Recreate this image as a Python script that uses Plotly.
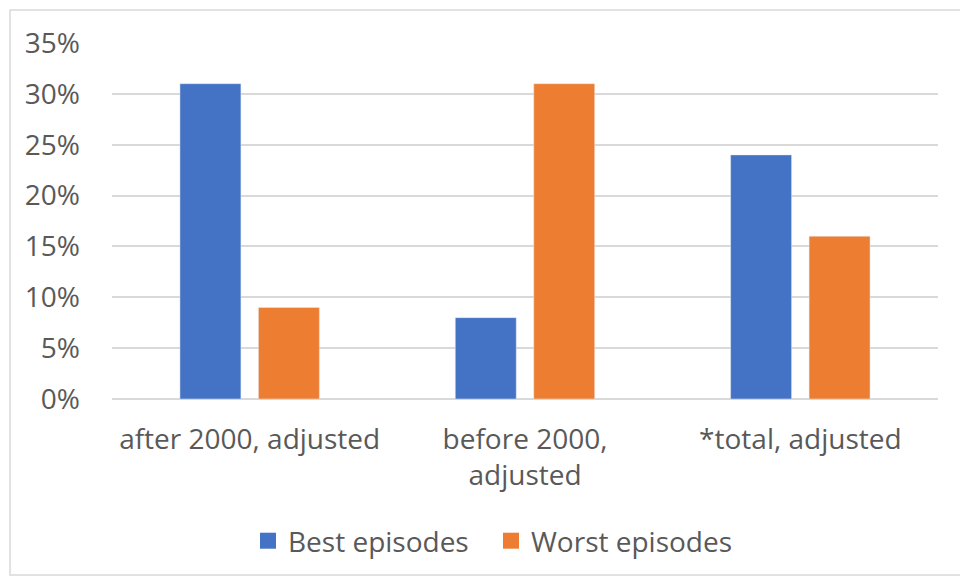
import plotly.graph_objects as go

categories = ["after 2000, adjusted", "before 2000,<br>adjusted", "*total, adjusted"]
best = [0.31, 0.08, 0.24]
worst = [0.09, 0.31, 0.16]
series_names = ["Best episodes", "Worst episodes"]
colors = ["#4472C4", "#ED7D31"]
tick_vals = [0, 0.05, 0.10, 0.15, 0.20, 0.25, 0.30, 0.35]
tick_text = ["0%", "5%", "10%", "15%", "20%", "25%", "30%", "35%"]

font_family = "Open Sans"
txt = "#595959"
FS = 28

fig = go.Figure()
for name, vals, col in zip(series_names, [best, worst], colors):
    fig.add_trace(go.Bar(x=categories, y=vals, name=name, marker_color=col,
                         showlegend=False, legendgroup=name))
# legend entries with larger square swatches
for name, col in zip(series_names, colors):
    fig.add_trace(go.Scatter(x=[None], y=[None], mode="markers", name=name,
                             legendgroup=name,
                             marker=dict(symbol="square", size=16, color=col)))

OFF = 8  # page body margin
W, H = 968 - OFF, 579 - OFF
L, R, T, B = 112 - OFF, 938 - OFF, 43 - OFF, 399 - OFF
pw, ph = R - L, B - T

def px(x):
    return (x - OFF - L) / pw

def py(y):
    return (B - (y - OFF)) / ph

fig.add_shape(type="rect", xref="paper", yref="paper",
              x0=px(10), x1=px(966), y0=py(575), y1=py(10),
              line=dict(color="#d9d9d9", width=1.5), layer="below")

fig.update_layout(
    width=W, height=H,
    margin=dict(l=L, r=W - R, t=T, b=H - B),
    paper_bgcolor="white", plot_bgcolor="white",
    barmode="group", bargap=0.43, bargroupgap=0.223,
    font=dict(family=font_family, size=FS, color=txt),
    showlegend=True,
    legend=dict(orientation="h", x=px(491), xanchor="center", y=py(541), yanchor="middle",
                font=dict(size=FS, color=txt), itemwidth=30, entrywidth=198,
                traceorder="normal", itemclick=False, itemdoubleclick=False),
    xaxis=dict(showgrid=False, showline=False, ticks="", ticklabelstandoff=21,
               tickfont=dict(size=FS, color=txt)),
    yaxis=dict(range=[0, 0.35], tickvals=tick_vals, ticktext=tick_text,
               showgrid=True, gridcolor="#d9d9d9", gridwidth=1.5,
               zeroline=True, zerolinecolor="#d9d9d9", zerolinewidth=1.5,
               showline=False, ticks="", ticklabelstandoff=31,
               tickfont=dict(size=FS, color=txt)),
)

fig.write_html("out.html")
